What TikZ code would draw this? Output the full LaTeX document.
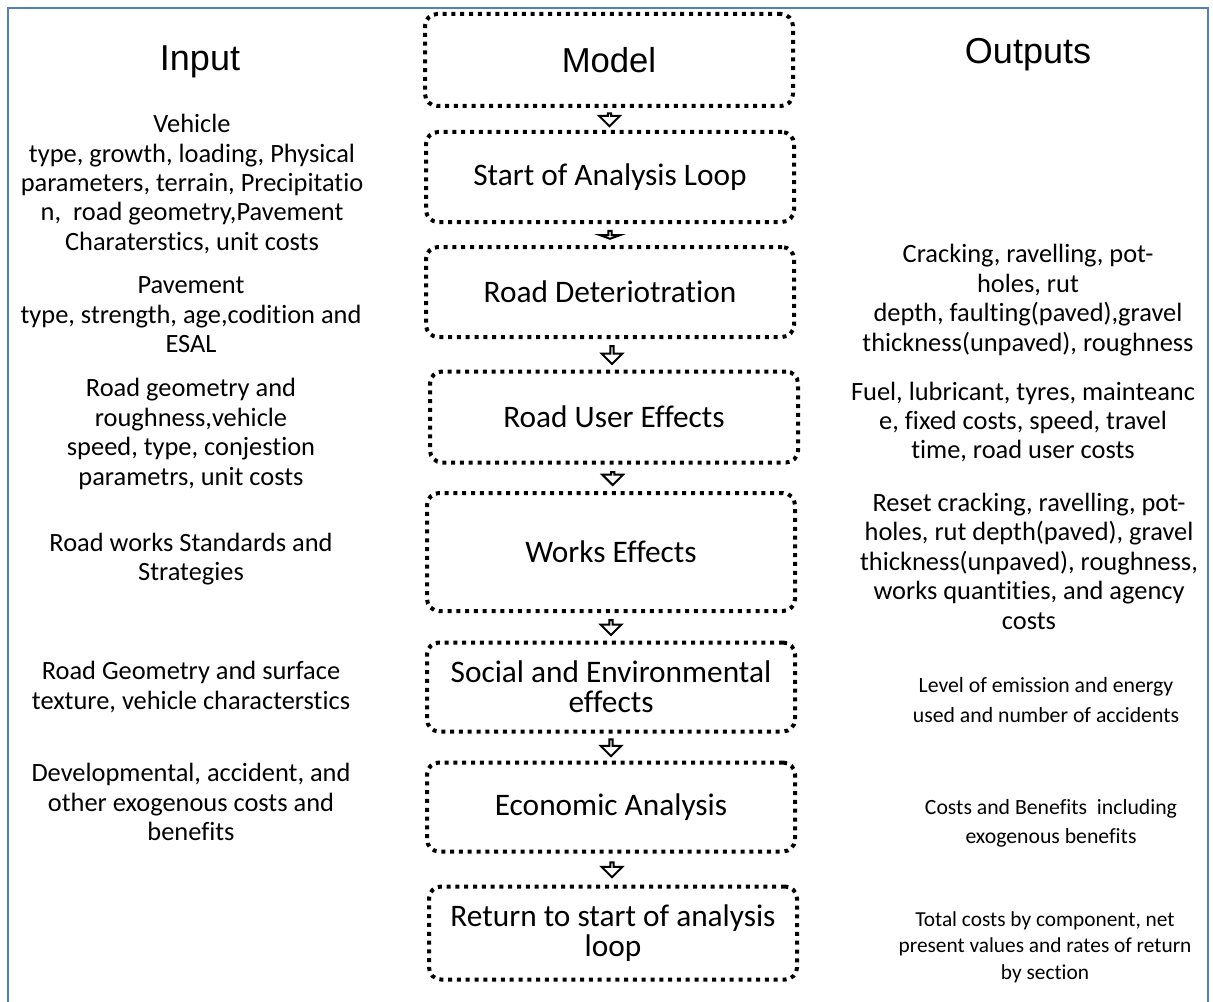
\documentclass[tikz,border=0pt]{standalone}
\usepackage{fontspec}
\setmainfont{Carlito}[Ligatures=NoCommon]
\newfontfamily\headfont{Liberation Sans}
\usepackage{tikz}
\usetikzlibrary{shapes.arrows}
\usetikzlibrary{positioning}
\definecolor{rahmenblau}{RGB}{79,129,189}
\tikzset{
  Kasten/.style={draw, line width=3pt, dash pattern=on 3pt off 3.6pt,
    rounded corners=9pt, minimum width=276pt, minimum height=#1*0.75pt,
    align=center, font=\fontsize{23.5}{22.5}\selectfont}, % Modellschritte
  Text/.style={align=center, font=\fontsize{19.8}{22.1}\selectfont}, % Ein-/Ausgaben
  KleinText/.style={Text, font=\fontsize{16.3}{21.8}\selectfont}, % kleinere Ausgaben
  Kopf/.style={font=\headfont\fontsize{27}{30}\selectfont}, % Spaltenkoepfe
  Blockpfeil/.style={single arrow, draw, fill=white, line width=1.5pt,
    shape border rotate=270, minimum height=#1*0.75pt, minimum width=15.5pt,
    single arrow head extend=4pt, inner sep=0pt} % Pfeile zwischen Kaesten
}
\begin{document}
\begin{tikzpicture}[x=0.75pt, y=-0.75pt]
\useasboundingbox (0,0) rectangle (1213,1002);

%Rahmen
\draw[rahmenblau, line width=1.5pt] (8,1002) -- (8,8) -- (1208,8) -- (1208,1002);

%Spaltenkoepfe
\node[Kopf] (input) at (200,62) {Input};
\node[Kopf] (outputs) at (1028,55) {Outputs};

%Modell
\node[Kasten=92, font=\headfont\fontsize{26}{30}\selectfont] (model) at (609,60) {Model};
\node[Kasten=90] (start) at (610,177) {Start of Analysis Loop};
\node[Kasten=90] (rd) at (610,292) {Road Deteriotration};
\node[Kasten=91] (rue) at (614,417) {Road User Effects};
\node[Kasten=118] (we) at (611,552) {Works Effects};
\node[Kasten=89] (see) at (611,687) {Social and Environmental\\effects};
\node[Kasten=89] (ea) at (611,807) {Economic Analysis};
\node[Kasten=93] (ret) at (613,933) {Return to start of analysis\\loop};

%Pfeile
\path (model) -- node[Blockpfeil=13] {} (start);
\path (start) -- node[Blockpfeil=8, single arrow tip angle=140] {} (rd);
\path (rd) -- node[Blockpfeil=18] {} (rue);
\path (rue) -- node[Blockpfeil=13] {} (we);
\path (we) -- node[Blockpfeil=15] {} (see);
\path (see) -- node[Blockpfeil=17] {} (ea);
\path (ea) -- node[Blockpfeil=15] {} (ret);

%Eingaben
\node[Text] (in1) at (192,184) {Vehicle\\type, growth, loading, Physical\\parameters, terrain, Precipitatio\\n,~ road geometry,Pavement\\Charaterstics, unit costs};
\node[Text] (in2) at (191,315) {Pavement\\type, strength, age,codition and\\ESAL};
\node[Text] (in3) at (191,434) {Road geometry and\\roughness,vehicle\\speed, type, conjestion\\parametrs, unit costs};
\node[Text] (in4) at (191,559) {Road works Standards and\\Strategies};
\node[Text] (in5) at (191,687) {Road Geometry and surface\\texture, vehicle characterstics};
\node[Text] (in6) at (191,802) {Developmental, accident, and\\other exogenous costs and\\benefits};

%Ausgaben
\node[Text] (out1) at (1028,300) {Cracking, ravelling, pot-\\holes, rut\\depth, faulting(paved),gravel\\thickness(unpaved), roughness};
\node[Text] (out2) at (1023,422) {Fuel, lubricant, tyres, mainteanc\\e, fixed costs, speed, travel\\time, road user costs};
\node[Text] (out3) at (1029,561) {Reset cracking, ravelling, pot-\\holes, rut depth(paved), gravel\\thickness(unpaved), roughness,\\works quantities, and agency\\costs};
\node[KleinText] (out4) at (1046,700) {Level of emission and energy\\used and number of accidents};
\node[KleinText] (out5) at (1051,823) {Costs and Benefits~ including\\exogenous benefits};
\node[KleinText, font=\fontsize{16}{19.9}\selectfont] (out6) at (1045,947) {Total costs by component, net\\present values and rates of return\\by section};

\end{tikzpicture}
\end{document}
